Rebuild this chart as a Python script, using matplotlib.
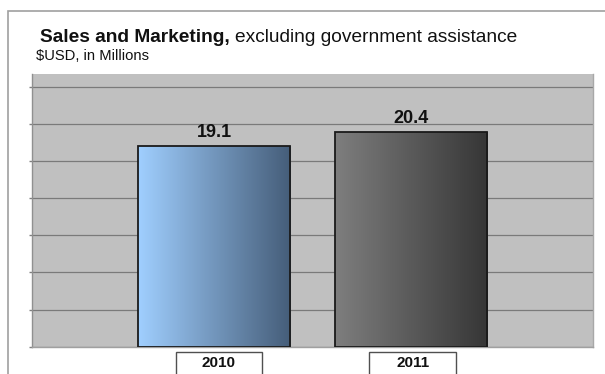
import numpy as np
import matplotlib.pyplot as plt
from matplotlib.patches import Rectangle
from matplotlib.colors import LinearSegmentedColormap

# Data
years = ['2010', '2011']
sales = [19.1, 20.4]

# Bar gradients (left -> right)
bar_colors = [('#A0CFFF', '#455D79'), ('#7E7E7E', '#363636')]

plt.rcParams['font.family'] = ['Liberation Sans', 'DejaVu Sans']

fig = plt.figure(figsize=(6.05, 3.74), dpi=100)
W, H = 605, 374

# outer chart frame (runs off the right and bottom edges)
fig.patches.append(Rectangle((8 / W, -0.05), 1.1, (H - 11) / H + 0.05,
                             transform=fig.transFigure, fill=False,
                             edgecolor='#A0A0A0', lw=1.2))

ax = fig.add_axes([32 / W, (H - 346.7) / H, 561 / W, 272.4 / H])
ax.set_facecolor('#C0C0C0')

x = np.arange(len(years))
bar_w = 0.772
bars = ax.bar(x, sales, width=bar_w, facecolor='none', edgecolor='#1A1A1A',
              lw=1.3, zorder=3)

# gradient fill inside each bar
for b, (c0, c1) in zip(bars, bar_colors):
    cmap = LinearSegmentedColormap.from_list('g', [c0, c1])
    grad = np.linspace(0, 1, 256).reshape(1, -1)
    x0, y0 = b.get_x(), b.get_y()
    ax.imshow(grad, cmap=cmap, aspect='auto', zorder=2,
              extent=(x0, x0 + b.get_width(), y0, y0 + b.get_height()))

# value labels
for xi, v in zip(x, sales):
    ax.text(xi, v + 0.45, f'{v}', ha='center', va='bottom',
            fontsize=13, fontweight='bold', color='#111111', zorder=4)

ax.set_xlim(-0.924, 1.924)
ax.set_ylim(0, 25.9)

step = 3.53
ax.set_yticks(np.arange(0, 25.9, step))
ax.yaxis.grid(True, color='#7A7A7A', lw=0.9)
ax.set_axisbelow(True)
ax.set_yticklabels([])
ax.tick_params(axis='y', length=2.2, width=1, color='#808080', direction='out')
ax.set_xticks([])

ax.spines['top'].set_visible(False)
ax.spines['left'].set_color('#909090')
ax.spines['right'].set_color('#A8A8A8')
ax.spines['bottom'].set_color('#A0A0A0')
for s in ['left', 'right', 'bottom']:
    ax.spines[s].set_linewidth(1)

# year label boxes under the bars
box_w = 0.44
for xi, yr in zip(x, years):
    cx = xi + (0.025 if xi == 0 else 0.008)
    ax.add_patch(Rectangle((cx - box_w / 2, -0.11), box_w, 0.11 - 0.0206,
                           transform=ax.get_xaxis_transform(), clip_on=False,
                           facecolor='white', edgecolor='#505050', lw=1))
    ax.text(cx, -0.06, yr, transform=ax.get_xaxis_transform(),
            ha='center', va='center', fontsize=11, fontweight='bold',
            color='#111111')

# title: bold lead-in followed by regular text
t1 = fig.text(40 / W, (H - 42) / H, 'Sales and Marketing,', fontsize=13.8,
              fontweight='bold', color='#111111')
fig.canvas.draw()
bb = t1.get_window_extent()
fig.text(bb.x1 / W + 5.5 / W, (H - 42) / H, 'excluding government assistance',
         fontsize=13.8, color='#111111')
fig.text(36 / W, (H - 60) / H, '$USD, in Millions', fontsize=10.6,
         color='#111111')

fig.savefig('out.png', dpi=100)
